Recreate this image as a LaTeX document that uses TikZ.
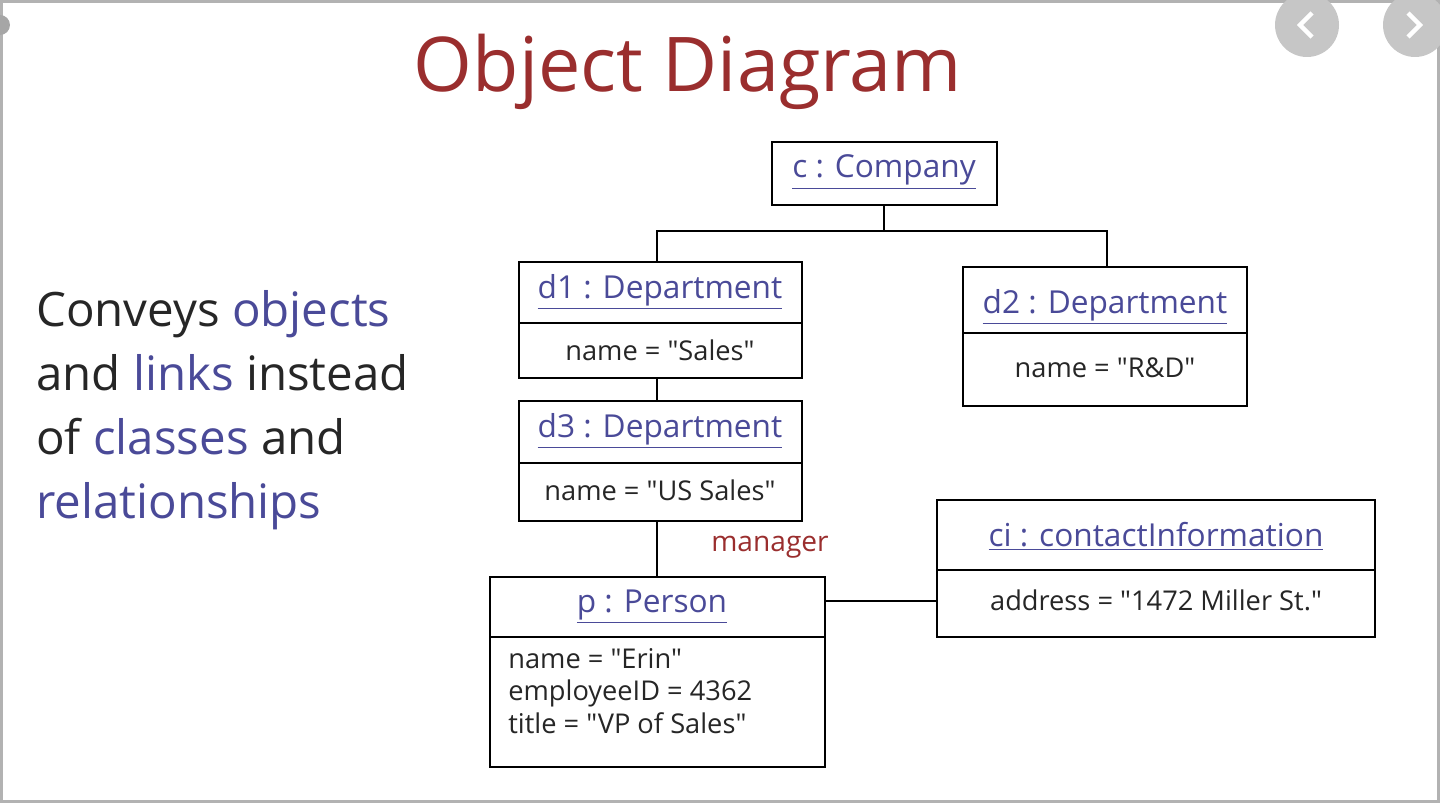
\documentclass[tikz,border=0pt]{standalone}
\usepackage{fontspec}
\setmainfont{Open Sans}[Ligatures=TeXOff]
\usetikzlibrary{calc}
\definecolor{tred}{HTML}{9A2E2E}
\definecolor{tblue}{HTML}{4A4A98}
\newcommand{\q}{"}
\begin{document}
\begin{tikzpicture}[x=0.02cm,y=-0.02cm,
  box/.style={draw,line width=1.6pt,fill=white},
  hdr/.style={text=tblue,font=\fontsize{18}{22}\selectfont},
  attr/.style={font=\fontsize{15.5}{18.5}\selectfont,align=left,text=black!85},
  link/.style={line width=1.6pt}]
\useasboundingbox (0,0) rectangle (1440,803);
\draw[gray!60,line width=2pt] (1,1) rectangle (1439,802);
\fill[gray!45] (1307,25) circle (32);
\fill[gray!45] (1415,25) circle (32);
\draw[white,line width=2.5pt] (1312,13)--(1300,25)--(1312,37);
\draw[white,line width=2.5pt] (1408,13)--(1420,25)--(1408,37);
\fill[gray!70] (0,25) circle (10);
\node[text=tred,font=\fontsize{43}{50}\selectfont] (title) at (688,72) {Object Diagram};
\node[anchor=west,align=left,text=black!85,font=\fontsize{27}{36.5}\selectfont] (txt) at (30,410)
 {Conveys \textcolor{tblue}{objects}\\and \textcolor{tblue}{links} instead\\of \textcolor{tblue}{classes} and\\\textcolor{tblue}{relationships}};
% boxes
\draw[box] (772,142) rectangle (997,205);
\node[hdr] (c) at (884,172) {\underline{c : Company}};
\draw[box] (519,262) rectangle (802,378); \draw[link] (519,323)--(802,323);
\node[hdr] (d1) at (660,292) {\underline{d1 : Department}};
\node[attr] (d1a) at (660,350) {name = \q Sales\q};
\draw[box] (963,267) rectangle (1247,406); \draw[link] (963,333)--(1247,333);
\node[hdr] (d2) at (1105,307) {\underline{d2 : Department}};
\node[attr] (d2a) at (1105,368) {name = \q R\&D\q};
\draw[box] (519,401) rectangle (802,521); \draw[link] (519,463)--(802,463);
\node[hdr] (d3) at (660,431) {\underline{d3 : Department}};
\node[attr] (d3a) at (660,490) {name = \q US Sales\q};
\draw[box] (490,577) rectangle (825,767); \draw[link] (490,637)--(825,637);
\node[hdr] (p) at (652,607) {\underline{p : Person}};
\node[attr,anchor=north west,inner sep=0pt] (pa) at (508,648) {name = \q Erin\q\\employeeID = 4362\\title = \q VP of Sales\q};
\draw[box] (937,500) rectangle (1375,637); \draw[link] (937,570)--(1375,570);
\node[hdr] (ci) at (1156,536) {\underline{ci : contactInformation}};
\node[attr] (cia) at (1156,600) {address = \q 1472 Miller St.\q};
\node[text=tred,font=\fontsize{16}{20}\selectfont] (mgr) at (770,547) {manager};
% links
\coordinate (cb) at (884,205);
\coordinate (j) at (884,231);
\draw[link] (cb)--(j);
\draw[link] (657,262)--(657,231)--(1107,231)--(1107,267);
\draw[link] (657,378)--(657,401);
\draw[link] (657,521)--(657,577);
\draw[link] (825,601)--(937,601);
\end{tikzpicture}
\end{document}
